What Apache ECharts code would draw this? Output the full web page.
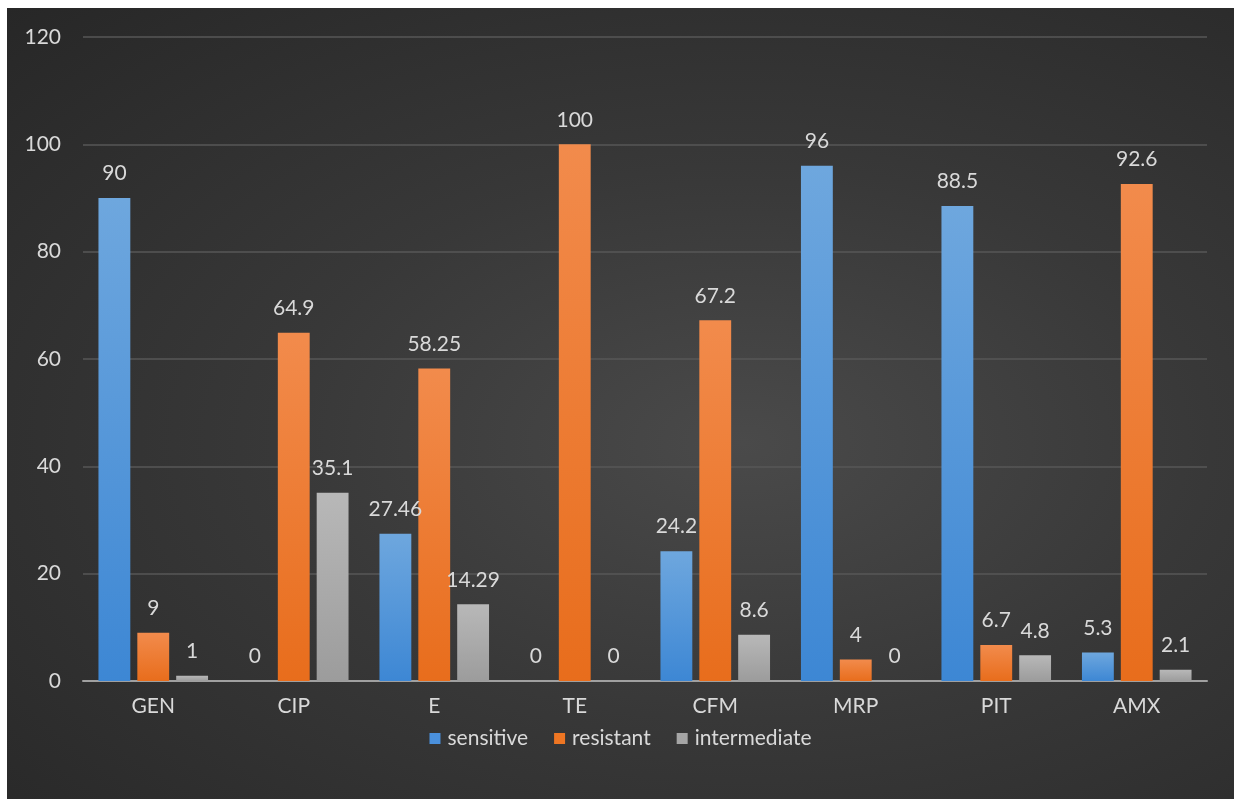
<!DOCTYPE html>
<html>
<head>
<meta charset="utf-8">
<script src="https://cdn.jsdelivr.net/npm/echarts@6/dist/echarts.min.js"></script>
<style>
  html, body { margin: 0; padding: 0; background: #fff; overflow: hidden; width: 1234px; height: 799px; }
  #chart {
    position: absolute; left: 7px; top: 8px; width: 1227px; height: 791px;
    background: radial-gradient(ellipse at 60% 55%, #4a4a4a 0%, #383838 45%, #272727 100%);
  }
</style>
</head>
<body>
<div id="chart"></div>
<script>
const categories = ['GEN', 'CIP', 'E', 'TE', 'CFM', 'MRP', 'PIT', 'AMX']
const sensitive = [90, 0, 27.46, 0, 24.2, 96, 88.5, 5.3]
const resistant = [9, 64.9, 58.25, 100, 67.2, 4, 6.7, 92.6]
const intermediate = [1, 35.1, 14.29, 0, 8.6, 0, 4.8, 2.1]
const yTicks = [0, 20, 40, 60, 80, 100, 120]

const textColor = '#d9d9d9'
const fontFamily = 'Lato, "Open Sans", sans-serif'
const fontSize = 21

function grad (top, bottom) {
  return new echarts.graphic.LinearGradient(0, 0, 0, 1, [
    { offset: 0, color: top },
    { offset: 1, color: bottom }
  ])
}

function makeSeries (name, data, color) {
  return {
    name: name,
    type: 'bar',
    data: data,
    barGap: '22%',
    barCategoryGap: '22%',
    itemStyle: { color: color },
    label: {
      show: true,
      position: 'top',
      distance: 14,
      color: textColor,
      fontSize: fontSize,
      fontFamily: fontFamily
    }
  }
}

const chart = echarts.init(document.getElementById('chart'), null)
const option = {
  backgroundColor: 'transparent',
  animation: false,
  grid: { left: 76, right: 27, top: 29, bottom: 118 },
  legend: {
    bottom: 45,
    left: 'center',
    itemWidth: 11,
    itemHeight: 11,
    itemGap: 26,
    icon: 'rect',
    textStyle: { color: textColor, fontSize: fontSize, fontFamily: fontFamily, padding: [0, 0, 0, 2] },
    data: [
      { name: 'sensitive', itemStyle: { color: '#4a90dc' } },
      { name: 'resistant', itemStyle: { color: '#ee7623' } },
      { name: 'intermediate', itemStyle: { color: '#a5a5a5' } }
    ]
  },
  xAxis: {
    type: 'category',
    data: categories,
    axisLine: { lineStyle: { color: '#a0a0a0', width: 2 } },
    axisTick: { show: false },
    axisLabel: { color: textColor, fontSize: fontSize, fontFamily: fontFamily, margin: 15 }
  },
  yAxis: {
    type: 'value',
    min: yTicks[0],
    max: yTicks[yTicks.length - 1],
    interval: 20,
    axisLine: { show: false },
    axisTick: { show: false },
    axisLabel: { color: textColor, fontSize: fontSize, fontFamily: fontFamily, margin: 22 },
    splitLine: { lineStyle: { color: '#575757', width: 1.5 } }
  },
  series: [
    makeSeries('sensitive', sensitive, grad('#6ea7de', '#3d87d4')),
    makeSeries('resistant', resistant, grad('#f28b4c', '#e86d1c')),
    makeSeries('intermediate', intermediate, grad('#b8b8b8', '#9c9c9c'))
  ]
}
chart.setOption(option)
</script>
</body>
</html>
